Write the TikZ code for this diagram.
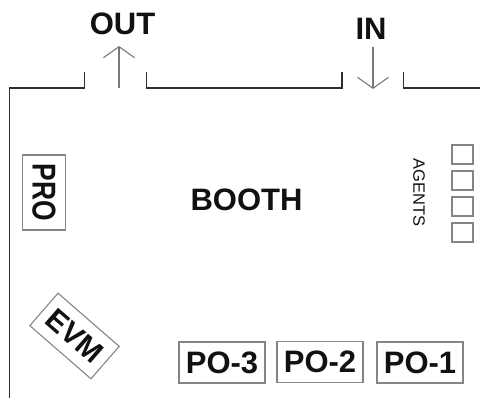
\documentclass[tikz,border=0pt]{standalone}
\usepackage{fontspec}
\setmainfont{Liberation Sans}
\usetikzlibrary{arrows.meta}
\definecolor{wallc}{HTML}{2E2E2E}
\definecolor{boxc}{HTML}{858585}
\definecolor{txtc}{HTML}{111111}
\tikzset{
  wall/.style={draw=wallc, line width=1.8pt},
  doorarrow/.style={draw=boxc!90!black, line width=1.1pt, -{Straight Barb[length=11pt,width=31pt,line width=1.1pt]}},
  bigtxt/.style={text=txtc, font=\fontsize{31}{31}\selectfont\bfseries, inner sep=0pt},
  labbox/.style={draw=boxc, line width=1.1pt, text=txtc, font=\fontsize{31}{31}\selectfont\bfseries, inner sep=0pt, minimum width=86pt, minimum height=41pt},
  seat/.style={draw=boxc, line width=1.4pt, minimum width=21pt, minimum height=19pt, inner sep=0pt}
}
\begin{document}
\begin{tikzpicture}[x=1pt,y=-1pt]
\useasboundingbox (0,0) rectangle (480,398);
% walls
\draw[wall] (9.5,398) -- (9.5,88) -- (84.5,88) -- (84.5,72);
\draw[wall] (146.5,72) -- (146.5,88) -- (342,88) -- (342,72);
\draw[wall] (403.5,72) -- (403.5,88) -- (480,88);
% door arrows
\coordinate (outA) at (119,88);
\coordinate (outB) at (119,46);
\coordinate (inA) at (373,47);
\coordinate (inB) at (373,89);
\draw[doorarrow] (outA) -- (outB);
\draw[doorarrow] (inA) -- (inB);
% labels
\node[bigtxt] (out) at (122.5,24) {OUT};
\node[bigtxt] (in) at (371,29) {IN};
\node[bigtxt] (booth) at (246.5,199.5) {BOOTH};
% PRO
\node[draw=boxc, line width=1.1pt, text=txtc, inner sep=0pt, minimum width=75pt, minimum height=43pt, rotate=-90,
      font=\fontsize{33}{33}\selectfont\bfseries] (pro) at (44,192.5) {\scalebox{0.8}[1]{PRO}};
% EVM
\node[draw=boxc, line width=1.1pt, text=txtc, inner sep=0pt, minimum width=81pt, minimum height=43pt, rotate=-41,
      font=\fontsize{30}{30}\selectfont\bfseries] (evm) at (74.5,336) {EVM};
% PO boxes
\node[labbox] (po3) at (222,362.5) {PO-3};
\node[labbox] (po2) at (320,362) {PO-2};
\node[labbox] (po1) at (420,362.5) {PO-1};
% agents
\node[text=txtc, inner sep=0pt, rotate=-90, font=\fontsize{16.5}{16.5}\selectfont] (agents) at (419,192.5) {AGENTS};
\node[seat] (s1) at (462.5,154.5) {};
\node[seat] (s2) at (462.5,180.5) {};
\node[seat] (s3) at (462.5,206.5) {};
\node[seat] (s4) at (462.5,232.5) {};
\end{tikzpicture}
\end{document}
